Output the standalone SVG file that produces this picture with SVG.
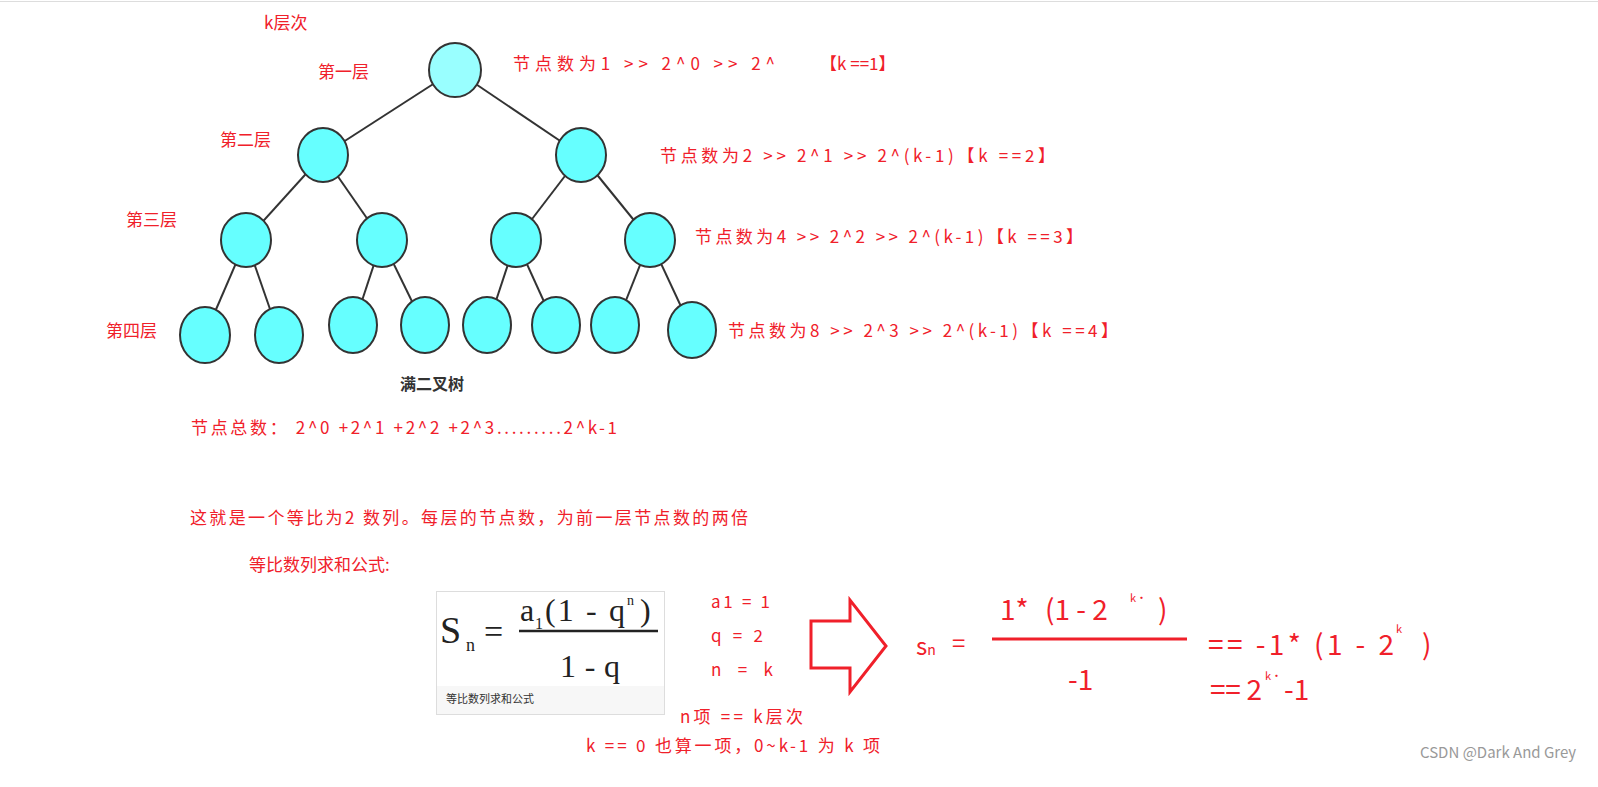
<svg xmlns="http://www.w3.org/2000/svg" width="1598" height="787" viewBox="0 0 1598 787">
<style>
.n{fill:#66ffff;stroke:#333;stroke-width:2}
.e line{stroke:#333;stroke-width:2}
.t{font-family:"Noto Sans CJK SC",sans-serif;fill:#f0202a;font-size:17px}
.big{font-size:28px}
</style>
<rect width="1598" height="787" fill="#fff"/>
<line x1="0" y1="1.5" x2="1598" y2="1.5" stroke="#ddd"/>
<g class="e">
<line x1="455" y1="70" x2="323" y2="155"/><line x1="455" y1="70" x2="581" y2="155"/>
<line x1="323" y1="155" x2="246" y2="240"/><line x1="323" y1="155" x2="382" y2="240"/>
<line x1="581" y1="155" x2="516" y2="240"/><line x1="581" y1="155" x2="650" y2="240"/>
<line x1="246" y1="240" x2="205" y2="335"/><line x1="246" y1="240" x2="279" y2="335"/>
<line x1="382" y1="240" x2="353" y2="328"/><line x1="382" y1="240" x2="425" y2="328"/>
<line x1="516" y1="240" x2="487" y2="328"/><line x1="516" y1="240" x2="556" y2="328"/>
<line x1="650" y1="240" x2="615" y2="328"/><line x1="650" y1="240" x2="692" y2="330"/>
</g>
<g id="n1"><ellipse class="n" cx="455" cy="70" rx="26" ry="27" style="fill:#99ffff"/></g>
<g id="n2"><ellipse class="n" cx="323" cy="155" rx="25" ry="27"/></g>
<g id="n3"><ellipse class="n" cx="581" cy="155" rx="25" ry="27"/></g>
<g id="n4"><ellipse class="n" cx="246" cy="240" rx="25" ry="27"/></g>
<g id="n5"><ellipse class="n" cx="382" cy="240" rx="25" ry="27"/></g>
<g id="n6"><ellipse class="n" cx="516" cy="240" rx="25" ry="27"/></g>
<g id="n7"><ellipse class="n" cx="650" cy="240" rx="25" ry="27"/></g>
<g id="n8"><ellipse class="n" cx="205" cy="335" rx="25" ry="28"/></g>
<g id="n9"><ellipse class="n" cx="279" cy="335" rx="24" ry="28"/></g>
<g id="n10"><ellipse class="n" cx="353" cy="325" rx="24" ry="28"/></g>
<g id="n11"><ellipse class="n" cx="425" cy="325" rx="24" ry="28"/></g>
<g id="n12"><ellipse class="n" cx="487" cy="325" rx="24" ry="28"/></g>
<g id="n13"><ellipse class="n" cx="556" cy="325" rx="24" ry="28"/></g>
<g id="n14"><ellipse class="n" cx="615" cy="325" rx="24" ry="28"/></g>
<g id="n15"><ellipse class="n" cx="692" cy="330" rx="24" ry="28"/></g>
<text x="400" y="390" font-family="Noto Sans CJK SC,sans-serif" font-size="16" font-weight="bold" fill="#333">满二叉树</text>
<g class="t">
<text x="264" y="29">k层次</text>
<text x="318" y="78">第一层</text>
<text x="220" y="146">第二层</text>
<text x="126" y="226">第三层</text>
<text x="106" y="337">第四层</text>
<text x="513" y="70" textLength="262" lengthAdjust="spacing">节点数为1 &gt;&gt; 2^0 &gt;&gt; 2^</text><text x="820" y="70">【k ==1】</text>
<text x="660" y="162" textLength="395" lengthAdjust="spacing">节点数为2 &gt;&gt; 2^1 &gt;&gt; 2^(k-1)【k ==2】</text>
<text x="695" y="243" textLength="388" lengthAdjust="spacing">节点数为4 &gt;&gt; 2^2 &gt;&gt; 2^(k-1)【k ==3】</text>
<text x="728" y="337" textLength="390" lengthAdjust="spacing">节点数为8 &gt;&gt; 2^3 &gt;&gt; 2^(k-1)【k ==4】</text>
<text x="191" y="434" textLength="426" lengthAdjust="spacing">节点总数： 2^0 +2^1 +2^2 +2^3.........2^k-1</text>
<text x="190" y="524" textLength="558" lengthAdjust="spacing">这就是一个等比为2 数列。每层的节点数，为前一层节点数的两倍</text>
<text x="249" y="571">等比数列求和公式:</text>
<text x="711" y="608" textLength="59" lengthAdjust="spacing">a1 = 1</text>
<text x="711" y="642" textLength="52" lengthAdjust="spacing">q = 2</text>
<text x="711" y="676" textLength="62" lengthAdjust="spacing">n = k</text>
<text x="680" y="723" textLength="123" lengthAdjust="spacing">n项 == k层次</text>
<text x="586" y="752" textLength="294" lengthAdjust="spacing">k == 0 也算一项，0~k-1 为 k 项</text>
<text x="916" y="655" font-size="24">s<tspan font-size="14">n</tspan></text>
<text x="952" y="652" font-size="24">=</text>
<text x="1000" y="620" class="big">1*</text>
<text x="1045" y="620" class="big">(1 - 2</text>
<text x="1130" y="602" font-size="11">k·</text>
<text x="1158" y="620" class="big">)</text>
<text x="1068" y="690" class="big">-1</text>
<text x="1208" y="655" class="big" textLength="186" lengthAdjust="spacing">== -1* (1 - 2</text>
<text x="1396" y="633" font-size="11">k</text>
<text x="1422" y="655" class="big">)</text>
<text x="1210" y="700" class="big" textLength="52" lengthAdjust="spacing">== 2</text>
<text x="1265" y="680" font-size="11">k·</text>
<text x="1284" y="700" class="big">-1</text>
</g>
<line x1="992" y1="639" x2="1187" y2="639" stroke="#f0202a" stroke-width="3"/>
<path d="M811,621 H850 V600 L886,646 L850,692 V668 H811 Z" fill="none" stroke="#f0202a" stroke-width="3"/>
<g id="formula">
<rect x="436.5" y="591.5" width="228" height="123" fill="#fff" stroke="#ddd"/>
<rect x="437" y="686" width="227" height="28" fill="#f7f7f7"/>
<text x="446" y="703" font-family="Noto Sans CJK SC,sans-serif" font-size="11" fill="#333">等比数列求和公式</text>
<g font-family="Liberation Serif,serif" fill="#222">
<text x="440" y="643" font-size="38">S</text><text x="466" y="651" font-size="18">n</text>
<text x="484" y="643" font-size="34">=</text>
<text x="520" y="621" font-size="32">a</text><text x="535" y="629" font-size="16">1</text>
<text x="545" y="621" font-size="32" textLength="80" lengthAdjust="spacing">(1 - q</text><text x="627" y="605" font-size="14">n</text><text x="640" y="621" font-size="32">)</text>
<text x="560" y="677" font-size="32" textLength="60" lengthAdjust="spacing">1 - q</text>
</g>
<line x1="519" y1="631" x2="658" y2="631" stroke="#222" stroke-width="2.5"/>
</g>
<text x="1420" y="758" font-family="Noto Sans CJK SC,sans-serif" font-size="15" fill="#999">CSDN @Dark And Grey</text>
</svg>
